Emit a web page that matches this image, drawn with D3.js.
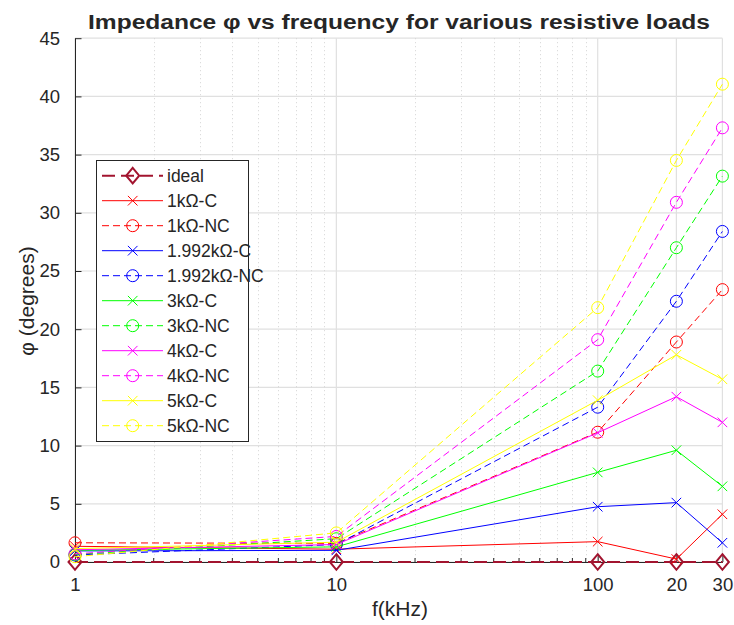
<!DOCTYPE html>
<html>
<head>
<meta charset="utf-8">
<script src="https://cdn.jsdelivr.net/npm/d3@7"></script>
<style>
  html, body { margin: 0; padding: 0; background: #fff; }
  svg { display: block; }
  text { font-family: "Liberation Sans", Arial, sans-serif; fill: #262626; }
</style>
</head>
<body>
<svg id="chart" width="734" height="625"></svg>
<script>
// ---- data ----
const freqs = [1, 10, 100, 200, 300];
const xTickValues = [1, 10, 100, 200, 300];
const xTickLabels = ["1", "10", "100", "20", "30"];
const xMinorTicks = [2, 3, 4, 5, 6, 7, 8, 9, 20, 30, 40, 50, 60, 70, 80, 90];
const yTicks = [0, 5, 10, 15, 20, 25, 30, 35, 40, 45];

const ideal      = [0, 0, 0, 0, 0];
const r1kC       = [1.35, 1.1, 1.75, 0.25, 4.1];
const r1kNC      = [1.65, 1.6, 11.15, 18.9, 23.4];
const r1992C     = [0.95, 1.0, 4.75, 5.1, 1.65];
const r1992NC    = [0.6, 1.5, 13.3, 22.4, 28.4];
const r3kC       = [1.0, 1.3, 7.7, 9.6, 6.5];
const r3kNC      = [0.65, 2.0, 16.4, 27.0, 33.15];
const r4kC       = [1.05, 1.5, 11.1, 14.2, 12.0];
const r4kNC      = [0.7, 2.2, 19.1, 30.9, 37.3];
const r5kC       = [1.15, 1.7, 13.9, 17.8, 15.7];
const r5kNC      = [0.45, 2.5, 21.85, 34.5, 41.05];

const seriesNames = ["ideal", "1kΩ-C", "1kΩ-NC", "1.992kΩ-C", "1.992kΩ-NC",
  "3kΩ-C", "3kΩ-NC", "4kΩ-C", "4kΩ-NC", "5kΩ-C", "5kΩ-NC"];
const seriesValues = [ideal, r1kC, r1kNC, r1992C, r1992NC, r3kC, r3kNC, r4kC, r4kNC, r5kC, r5kNC];
const seriesColors = ["#A2142F", "#FF0000", "#FF0000", "#0000FF", "#0000FF",
  "#00FF00", "#00FF00", "#FF00FF", "#FF00FF", "#FFFF00", "#FFFF00"];
const seriesMarkers = ["diamond", "x", "o", "x", "o", "x", "o", "x", "o", "x", "o"];
const seriesDashed = [true, false, true, false, true, false, true, false, true, false, true];

// ---- layout ----
const svg = d3.select("#chart");
const pLeft = 75, pRight = 722.4, pTop = 38.2, pBottom = 562;
const x = d3.scaleLog().domain([1, 300]).range([pLeft, pRight]);
const y = d3.scaleLinear().domain([0, 45]).range([pBottom, pTop]);

// grid
const grid = svg.append("g");
grid.selectAll(".hg").data(yTicks).join("line")
  .attr("x1", pLeft).attr("x2", pRight)
  .attr("y1", d => y(d)).attr("y2", d => y(d))
  .attr("stroke", "#e0e0e0").attr("stroke-width", 1.2);
grid.selectAll(".vminor").data(xMinorTicks).join("line")
  .attr("x1", d => Math.round(x(d)) + 0.5).attr("x2", d => Math.round(x(d)) + 0.5)
  .attr("y1", pTop).attr("y2", pBottom)
  .attr("stroke", "#d4d4d4").attr("stroke-width", 1).attr("stroke-dasharray", "1,3");
grid.selectAll(".vmajor").data(xTickValues).join("line")
  .attr("x1", d => x(d)).attr("x2", d => x(d))
  .attr("y1", pTop).attr("y2", pBottom)
  .attr("stroke", "#e0e0e0").attr("stroke-width", 1.2);

// axes
const yAxis = d3.axisLeft(y).tickValues(yTicks).tickSizeInner(-6.5).tickSizeOuter(0).tickPadding(15);
const gy = svg.append("g").attr("transform", `translate(${pLeft},0)`).call(yAxis);
gy.select(".domain").attr("stroke", "#262626");
gy.selectAll(".tick line").attr("stroke", "#262626");
gy.selectAll(".tick text").attr("font-size", 18.5).attr("fill", "#262626")
  .attr("font-family", "Liberation Sans, Arial, sans-serif");

const xAxis = d3.axisBottom(x).tickValues(xTickValues)
  .tickFormat((d, i) => xTickLabels[i]).tickSizeInner(-7).tickSizeOuter(0).tickPadding(16);
const gx = svg.append("g").attr("transform", `translate(0,${pBottom})`).call(xAxis);
gx.select(".domain").attr("stroke", "#262626");
gx.selectAll(".tick line").attr("stroke", "#262626");
gx.selectAll(".tick text").attr("font-size", 18.5).attr("fill", "#262626")
  .attr("font-family", "Liberation Sans, Arial, sans-serif");
svg.append("g").selectAll("line").data(xMinorTicks).join("line")
  .attr("x1", d => x(d)).attr("x2", d => x(d))
  .attr("y1", pBottom).attr("y2", pBottom - 4)
  .attr("stroke", "#262626").attr("stroke-width", 1);

// marker drawing
function drawMarker(g, type, cx, cy, color) {
  if (type === "o") {
    g.append("circle").attr("cx", cx).attr("cy", cy).attr("r", 6)
      .attr("fill", "none").attr("stroke", color).attr("stroke-width", 1);
  } else if (type === "x") {
    const s = 4.8;
    g.append("path").attr("d", `M${cx - s},${cy - s}L${cx + s},${cy + s}M${cx - s},${cy + s}L${cx + s},${cy - s}`)
      .attr("fill", "none").attr("stroke", color).attr("stroke-width", 1);
  } else if (type === "diamond") {
    const w = 6.5, h = 7.8;
    g.append("path").attr("d", `M${cx},${cy - h}L${cx + w},${cy}L${cx},${cy + h}L${cx - w},${cy}Z`)
      .attr("fill", "none").attr("stroke", color).attr("stroke-width", 2);
  }
}

// series
const line = d3.line().x(d => x(d[0])).y(d => y(d[1]));
seriesValues.forEach((vals, i) => {
  const g = svg.append("g");
  const pts = freqs.map((f, j) => [f, vals[j]]);
  const isIdeal = i === 0;
  g.append("path").attr("d", line(pts))
    .attr("fill", "none").attr("stroke", seriesColors[i])
    .attr("stroke-width", isIdeal ? 2.2 : 1)
    .attr("stroke-dasharray", seriesDashed[i] ? (isIdeal ? "13,6" : "7,4") : null);
  pts.forEach(p => drawMarker(g, seriesMarkers[i], x(p[0]), y(p[1]), seriesColors[i]));
});

// legend
const lg = svg.append("g");
const lx = 96.5, ly = 160.5, lw = 152, lh = 281;
lg.append("rect").attr("x", lx).attr("y", ly).attr("width", lw).attr("height", lh)
  .attr("fill", "#fff").attr("stroke", "#262626").attr("stroke-width", 1);
seriesNames.forEach((name, i) => {
  const cy = 175.7 + i * 25;
  const g = lg.append("g");
  g.append("line").attr("x1", 102).attr("x2", 163).attr("y1", cy).attr("y2", cy)
    .attr("stroke", seriesColors[i]).attr("stroke-width", i === 0 ? 2 : 1)
    .attr("stroke-dasharray", seriesDashed[i] ? (i === 0 ? "13,6" : "7,4") : null);
  drawMarker(g, seriesMarkers[i], 132.7, cy, seriesColors[i]);
  g.append("text").attr("x", 167).attr("y", cy + 6.3).attr("font-size", 17.5)
    .attr("fill", "#000").text(name);
});

// title and labels
svg.append("text").attr("x", 88).attr("y", 29)
  .attr("font-size", 20).attr("font-weight", "bold").attr("fill", "#000")
  .attr("textLength", 622).attr("lengthAdjust", "spacingAndGlyphs")
  .text("Impedance φ vs frequency for various resistive loads");
svg.append("text").attr("x", 400).attr("y", 616).attr("text-anchor", "middle")
  .attr("font-size", 21).text("f(kHz)");
svg.append("text").attr("transform", "translate(34,301) rotate(-90)")
  .attr("text-anchor", "middle").attr("font-size", 21).text("φ (degrees)");
</script>
</body>
</html>
